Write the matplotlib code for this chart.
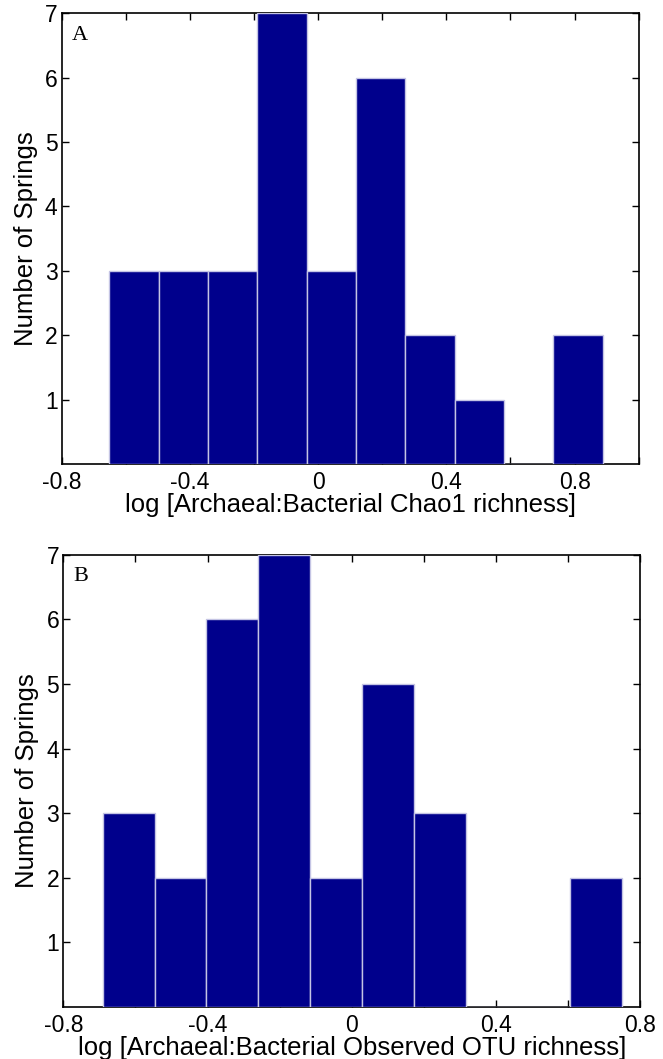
import matplotlib
matplotlib.use('Agg')
import matplotlib.pyplot as plt
import numpy as np

# histogram bins
chao_edges = [-0.652, -0.498, -0.344, -0.190, -0.036, 0.118, 0.272, 0.426, 0.580, 0.734, 0.888]
chao_counts = [3, 3, 3, 7, 3, 6, 2, 1, 0, 2]

otu_edges = [-0.691, -0.547, -0.403, -0.259, -0.115, 0.029, 0.173, 0.317, 0.461, 0.605, 0.749]
otu_counts = [3, 2, 6, 7, 2, 5, 3, 0, 0, 2]

panels = [
    ('A', chao_edges, chao_counts, (-0.8, 1.0),
     'log [Archaeal:Bacterial Chao1 richness]'),
    ('B', otu_edges, otu_counts, (-0.8, 0.8),
     'log [Archaeal:Bacterial Observed OTU richness]'),
]

bar_color = '#00008c'
edge_color = '#c4c4e4'

plt.rcParams['font.family'] = ['Liberation Sans', 'DejaVu Sans']

fig = plt.figure(figsize=(6.63, 10.59), dpi=100)
# axes rectangles in figure fractions
boxes = [
    [61.7 / 663, 1 - 464 / 1059, (638.7 - 61.7) / 663, (464 - 13.3) / 1059],
    [63.3 / 663, 1 - 1007 / 1059, (640.3 - 63.3) / 663, (1007 - 554.7) / 1059],
]

for box, (tag, edges, counts, xlim, xlabel) in zip(boxes, panels):
    ax = fig.add_axes(box)
    edges = np.array(edges)
    ax.bar(edges[:-1], counts, width=np.diff(edges), align='edge',
           color=bar_color, edgecolor=edge_color, linewidth=1, zorder=3)
    ax.set_xlim(*xlim)
    ax.set_ylim(0, 7)

    ticks = np.arange(xlim[0], xlim[1] + 0.01, 0.2)
    ax.set_xticks(ticks)
    labels = []
    for t in ticks:
        if abs(round(t / 0.4) * 0.4 - t) < 1e-6:
            labels.append('0' if abs(t) < 1e-6 else '%.1f' % t)
        else:
            labels.append('')
    ax.set_xticklabels(labels)
    ax.set_yticks([1, 2, 3, 4, 5, 6, 7])
    ax.tick_params(direction='in', length=5, width=1, top=True, right=True,
                   labelsize=16.5)
    ax.tick_params(axis='x', pad=5)
    ax.tick_params(axis='y', pad=3)
    for s in ax.spines.values():
        s.set_linewidth(1.2)

    ax.set_xlabel(xlabel, fontsize=18.5, labelpad=-1)
    ax.set_ylabel('Number of Springs', fontsize=18.5, labelpad=5)
    ax.text(0.018, 0.972, tag, transform=ax.transAxes, va='top', ha='left',
            fontsize=16, family='Liberation Serif')

fig.savefig('out.png', dpi=100)
